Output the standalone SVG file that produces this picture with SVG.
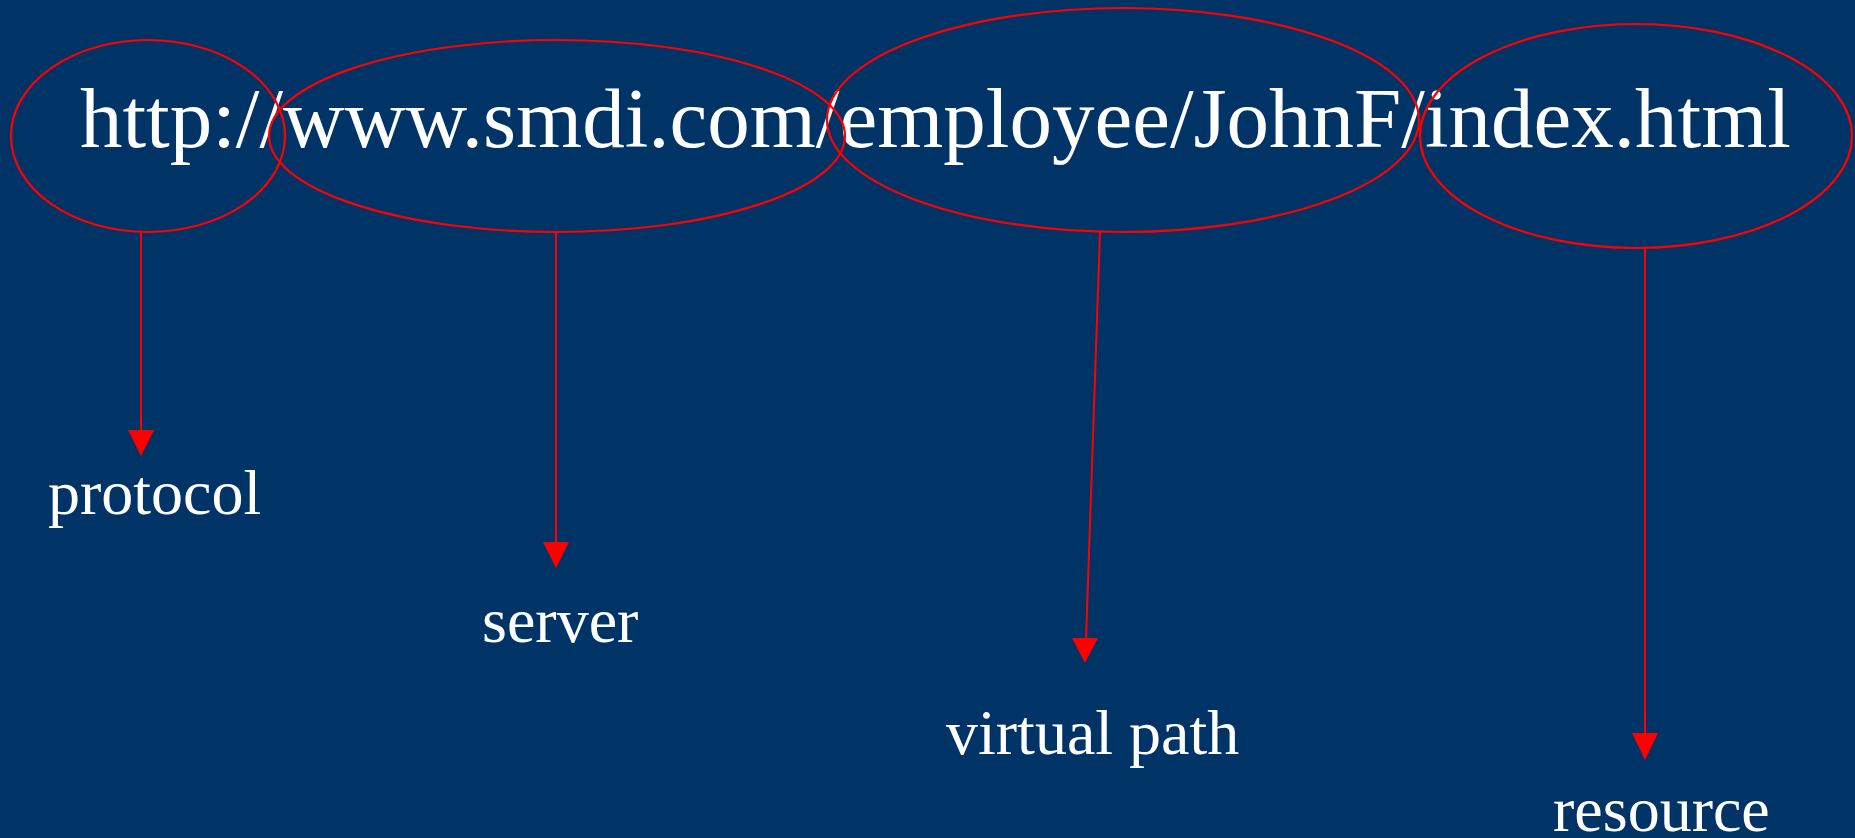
<svg xmlns="http://www.w3.org/2000/svg" width="1855" height="838" viewBox="0 0 1855 838">
<style>
.ring{fill:none;stroke:#ff0000;stroke-width:2.2}
.conn{stroke:#ff0000;stroke-width:2;fill:none}
.head{fill:#ff0000}
.url{font-family:"Liberation Serif","Times New Roman",serif;font-size:85px;fill:#ffffff}
.lbl{font-family:"Liberation Serif","Times New Roman",serif;font-size:64px;fill:#ffffff}
</style>
<rect x="0" y="0" width="1855" height="838" fill="#003366"/>
<text class="url" x="80" y="147">http://www.smdi.com/employee/JohnF/index.html</text>
<g id="protocol-ring"><ellipse class="ring" cx="148" cy="136" rx="137" ry="96"/></g>
<g id="server-ring"><ellipse class="ring" cx="557" cy="136" rx="288" ry="96"/></g>
<g id="path-ring"><ellipse class="ring" cx="1123" cy="120" rx="296" ry="112"/></g>
<g id="resource-ring"><ellipse class="ring" cx="1636" cy="136" rx="216" ry="112"/></g>
<g id="connectors">
<line class="conn" x1="141" y1="232" x2="141" y2="432"/>
<polygon class="head" points="128,430 154,430 141,456"/>
<line class="conn" x1="556" y1="232" x2="556" y2="544"/>
<polygon class="head" points="543,542 569,542 556,568"/>
<line class="conn" x1="1100" y1="232" x2="1086" y2="640"/>
<polygon class="head" points="1072,638 1098,638 1085,663"/>
<line class="conn" x1="1645" y1="248" x2="1645" y2="735"/>
<polygon class="head" points="1632,733 1658,733 1645,760"/>
</g>
<g id="protocol"><text class="lbl" x="48" y="514">protocol</text></g>
<g id="server"><text class="lbl" x="482" y="642">server</text></g>
<g id="virtual-path"><text class="lbl" x="946" y="754">virtual path</text></g>
<g id="resource"><text class="lbl" x="1553" y="831">resource</text></g>
</svg>
